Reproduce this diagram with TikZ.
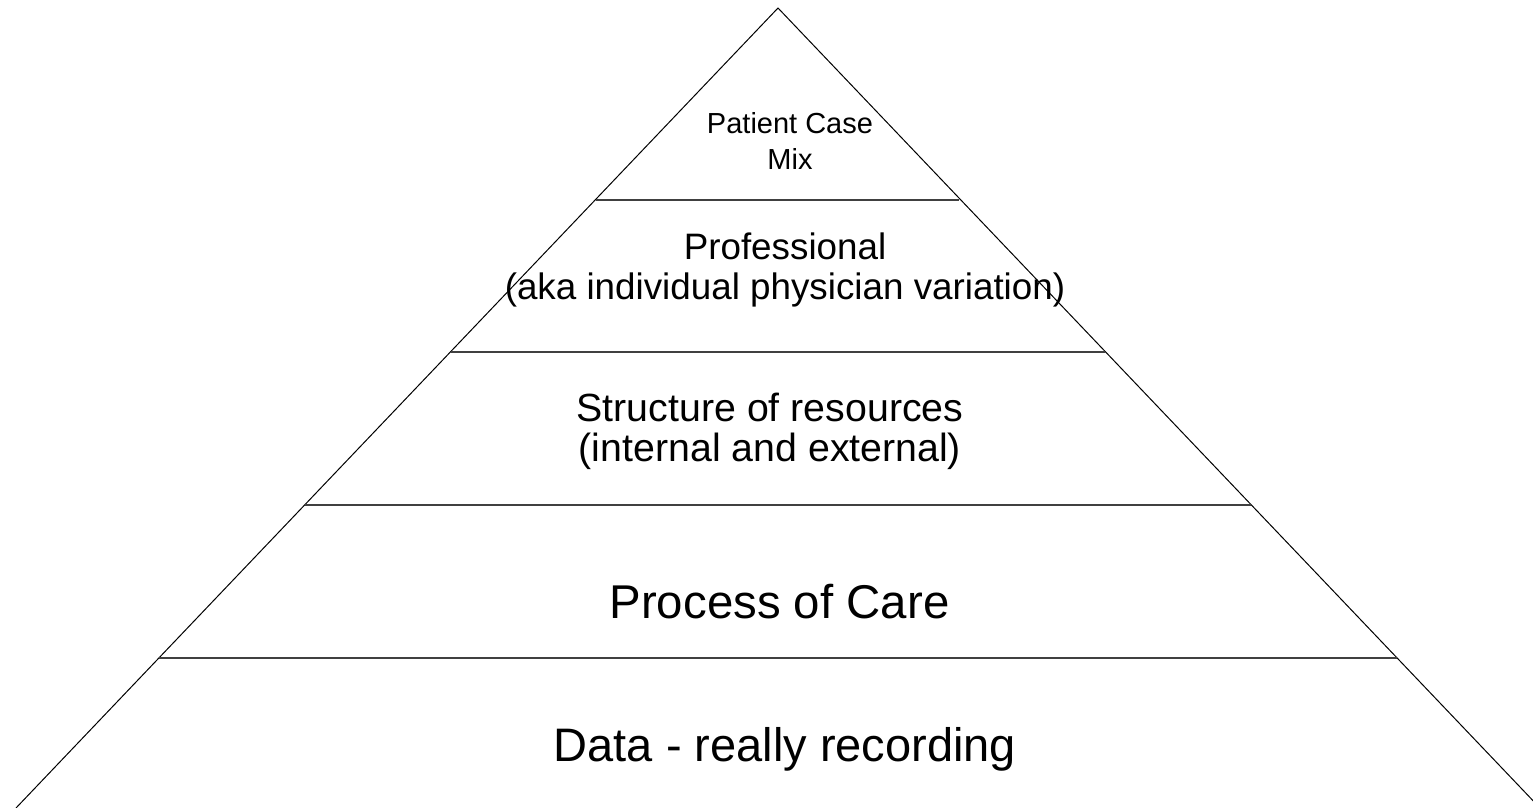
\documentclass[tikz,border=0pt]{standalone}
\usepackage{fontspec}
\setmainfont{Liberation Sans}
\usepackage{tikz}
\tikzset{
  side/.style={draw=black, line width=1pt},
  tier/.style={draw=black!75, line width=1.2pt},
  tiertext/.style={align=center, inner sep=0pt, text=black},
}

\begin{document}
\begin{tikzpicture}[x=1pt, y=-1pt]
\useasboundingbox (0,0) rectangle (1533,807);
\clip (0,0) rectangle (1533,807);
% pyramid outline
\coordinate (apex) at (778,8);
\coordinate (bl) at (16,808);
\coordinate (br) at (1540,808);
\draw[side] (bl) -- (apex) -- (br);
% tier boundaries
\draw[tier] (596,200) -- (959,200);
\draw[tier] (451,352) -- (1105,352);
\draw[tier] (305,505) -- (1251,505);
\draw[tier] (159,658) -- (1397,658);
% tier texts
\node[tiertext, font=\fontsize{29}{36}\selectfont] (mix) at (790,141) {Patient Case\\Mix};
\node[tiertext, font=\fontsize{36.8}{40}\selectfont] (prof) at (785,270) {Professional\\(aka individual physician variation)};
\node[tiertext, font=\fontsize{39.3}{40}\selectfont] (struct) at (770,431) {Structure of resources\\(internal and external)};
\node[tiertext, font=\fontsize{47.4}{50}\selectfont] (care) at (779.5,602) {Process of Care};
\node[tiertext, font=\fontsize{47}{50}\selectfont] (data) at (785,749) {Data - really recording};
\end{tikzpicture}
\end{document}
